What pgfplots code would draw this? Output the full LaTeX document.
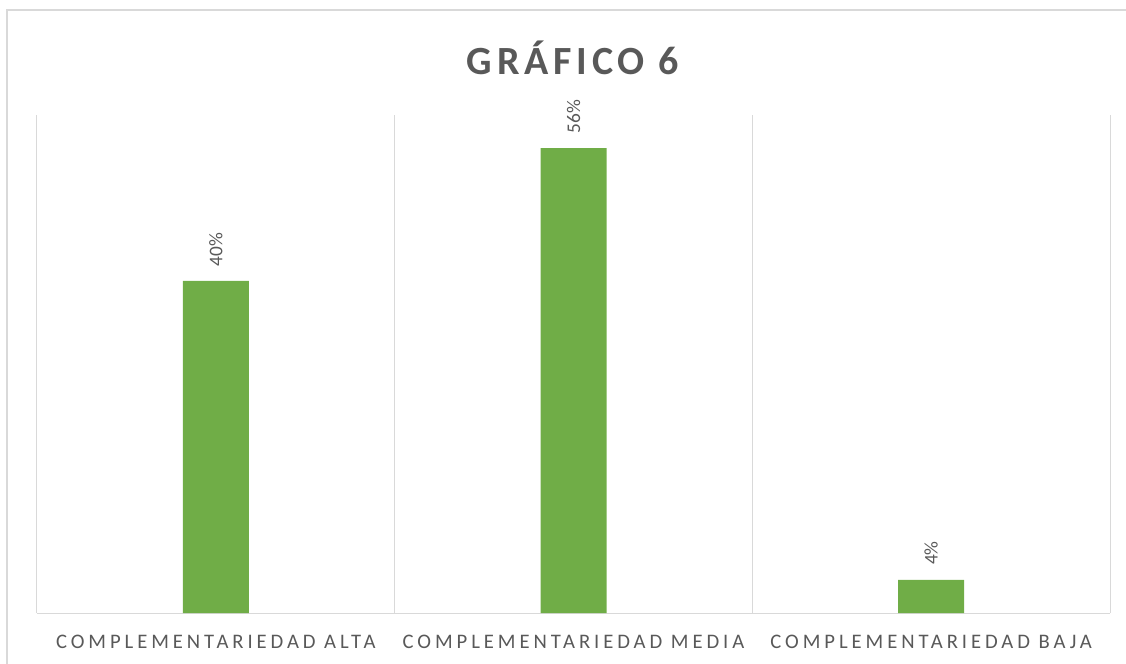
\documentclass[border=0pt]{standalone}
\usepackage{pgfplots}
\pgfplotsset{compat=1.18}
\usepackage{fontspec}
\setmainfont{Carlito}
\newfontfamily\titlefont[LetterSpace=12]{Carlito}
\newfontfamily\tickfont[LetterSpace=19]{Carlito}
\definecolor{barGreen}{HTML}{70AD47}
\definecolor{gridGray}{HTML}{D9D9D9}
\definecolor{textGray}{HTML}{595959}

\begin{document}
\begin{tikzpicture}
\useasboundingbox (-27.75pt,-37.5pt) rectangle (816.75pt,459.75pt);
\begin{axis}[
  scale only axis,
  width=804.75pt, height=373.5pt,
  xmin=-0.5, xmax=2.5,
  ymin=0, ymax=60,
  axis x line*=bottom,
  axis y line=none,
  x axis line style={gridGray, line width=0.75pt},
  xtick={0,1,2},
  xticklabels={COMPLEMENTARIEDAD ALTA, COMPLEMENTARIEDAD MEDIA, COMPLEMENTARIEDAD BAJA},
  major tick length=0pt,
  xticklabel style={font=\tickfont\fontsize{15.5}{18}\selectfont, text=textGray, anchor=north, inner sep=0pt, yshift=-16pt},
  extra x ticks={-0.5,0.5,1.5,2.5},
  extra x tick labels={},
  extra x tick style={grid=major, major grid style={gridGray, line width=0.75pt}},
  ytick=\empty,
  ybar, bar width=49.5pt,
  /pgf/number format/assume math mode=true,
  nodes near coords={\pgfmathprintnumber{\pgfplotspointmeta}\%},
  every node near coord/.append style={rotate=90, anchor=west, inner xsep=11pt, text=textGray, font=\fontsize{14.5}{17}\selectfont},
  clip=false,
]
\addplot[fill=barGreen, draw=none] coordinates {(0,40) (1,56) (2,4)};
\end{axis}
\begin{scope}
\clip (-27.75pt,-37.5pt) rectangle (816.75pt,459.75pt);
\draw[gridGray, line width=1.5pt] (-22.5pt,-60pt) rectangle (830pt,452.25pt);
\end{scope}
\node[font=\titlefont\fontsize{30}{36}\selectfont\bfseries, text=textGray] at (402pt,416.25pt) {GRÁFICO 6};
\end{tikzpicture}
\end{document}
